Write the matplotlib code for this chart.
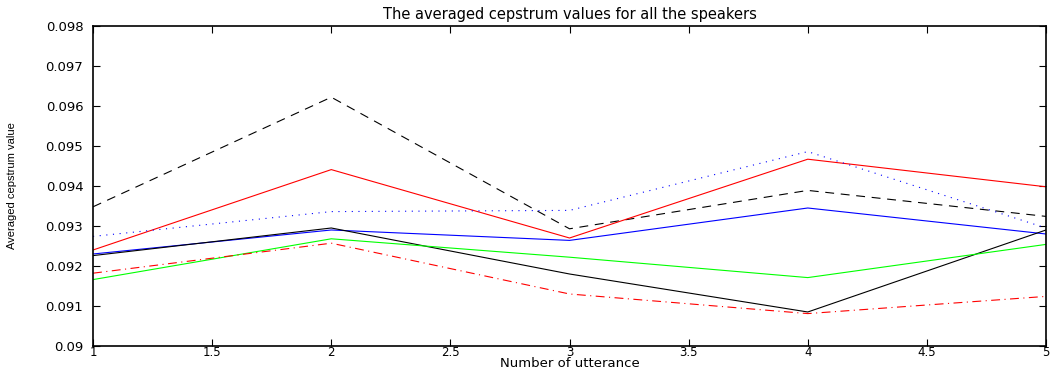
import matplotlib
matplotlib.use('Agg')
import matplotlib.pyplot as plt

# utterance numbers
utterance = [1, 2, 3, 4, 5]

# averaged cepstrum value per speaker
spk_black_dash = [0.09348, 0.09622, 0.09293, 0.09389, 0.09324]
spk_red_solid = [0.09240, 0.09441, 0.09270, 0.09467, 0.09398]
spk_blue_dot = [0.09274, 0.09336, 0.09339, 0.09486, 0.09295]
spk_blue_solid = [0.09230, 0.09290, 0.09264, 0.09345, 0.09280]
spk_black_solid = [0.09226, 0.09295, 0.09180, 0.09085, 0.09290]
spk_green_solid = [0.09166, 0.09268, 0.09222, 0.09171, 0.09254]
spk_red_dashdot = [0.09182, 0.09257, 0.09130, 0.09081, 0.09124]

xtick_vals = [1, 1.5, 2, 2.5, 3, 3.5, 4, 4.5, 5]
xtick_text = ['1', '1.5', '2', '2.5', '3', '3.5', '4', '4.5', '5']
ytick_vals = [0.09, 0.091, 0.092, 0.093, 0.094, 0.095, 0.096, 0.097, 0.098]
ytick_text = ['0.09', '0.091', '0.092', '0.093', '0.094', '0.095', '0.096', '0.097', '0.098']

plt.rcParams['font.family'] = ['DejaVu Sans']

fig = plt.figure(figsize=(10.5, 3.7), dpi=100)
ax = fig.add_axes([0.0886, 0.0649, 0.9076, 0.8648])

lw = 0.8
ax.plot(utterance, spk_black_dash, color='k', linestyle=(0, (8, 6)), linewidth=lw)
ax.plot(utterance, spk_red_solid, color='r', linestyle='-', linewidth=lw)
ax.plot(utterance, spk_blue_dot, color='b', linestyle=(0, (1, 5)), linewidth=lw)
ax.plot(utterance, spk_blue_solid, color='b', linestyle='-', linewidth=lw)
ax.plot(utterance, spk_black_solid, color='k', linestyle='-', linewidth=lw)
ax.plot(utterance, spk_green_solid, color='#00ff00', linestyle='-', linewidth=lw)
ax.plot(utterance, spk_red_dashdot, color='r', linestyle=(0, (8, 4, 1, 4)), linewidth=lw)

ax.set_xlim(1, 5)
ax.set_ylim(0.09, 0.098)
ax.set_xticks(xtick_vals)
ax.set_xticklabels(xtick_text)
ax.set_yticks(ytick_vals)
ax.set_yticklabels(ytick_text)

ax.tick_params(direction='in', top=True, right=True, length=5, width=0.8,
               labelsize=9.5)
ax.tick_params(axis='x', pad=0, labelsize=8.5)
ax.tick_params(axis='y', pad=7)
for s in ax.spines.values():
    s.set_linewidth(1.2)

ax.set_title('The averaged cepstrum values for all the speakers', fontsize=10.5, pad=5)
ax.set_xlabel('Number of utterance', fontsize=9.5, va='bottom')
ax.xaxis.set_label_coords(0.5, -24.5 / 320)
ax.set_ylabel('Averaged cepstrum value', fontsize=8,
              family=['Liberation Sans Narrow', 'Liberation Sans', 'DejaVu Sans'])
ax.yaxis.set_label_coords(-0.08, 0.5)

fig.savefig('out.png', dpi=100)
